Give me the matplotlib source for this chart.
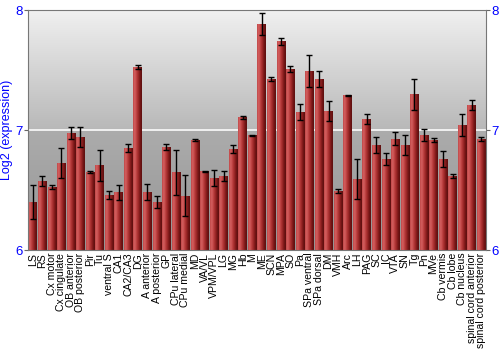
import numpy as np
import matplotlib.pyplot as plt
from matplotlib.colors import LinearSegmentedColormap

regions = ["LS", "RS", "Cx motor", "Cx cingulate", "OB anterior", "OB posterior",
           "Pir", "Tu", "ventral S", "CA1", "CA2/CA3", "DG", "A anterior",
           "A posterior", "GP", "CPu lateral", "CPu medial", "MD", "VA/VL",
           "VPM/VPL", "LG", "MG", "Hb", "M", "ME", "SCN", "MPA", "SO", "Pa",
           "SPa ventral", "SPa dorsal", "DM", "VMH", "Arc", "LH", "PAG", "SC",
           "IC", "VTA", "SN", "Tg", "Pn", "MVe", "Cb vermis", "Cb lobe",
           "Cb nucleus", "spinal cord anterior", "spinal cord posterior"]

expression = [6.40, 6.575, 6.525, 6.725, 6.975, 6.944, 6.65, 6.706,
              6.458, 6.48, 6.85, 7.525, 6.483, 6.40, 6.856, 6.647,
              6.453, 6.917, 6.656, 6.60, 6.617, 6.839, 7.106, 6.956,
              7.881, 7.428, 7.739, 7.511, 7.15, 7.492, 7.425, 7.158,
              6.492, 7.289, 6.592, 7.092, 6.875, 6.758, 6.928, 6.875,
              7.297, 6.958, 6.919, 6.756, 6.619, 7.042, 7.206, 6.925]

error = [0.139, 0.044, 0.017, 0.128, 0.053, 0.083, 0.011, 0.13,
         0.036, 0.063, 0.036, 0.02, 0.07, 0.053, 0.024, 0.19,
         0.168, 0.005, 0.005, 0.07, 0.04, 0.032, 0.0125, 0.006,
         0.092, 0.017, 0.028, 0.024, 0.065, 0.13, 0.065, 0.086,
         0.02, 0.005, 0.164, 0.04, 0.064, 0.052, 0.056, 0.083,
         0.132, 0.049, 0.017, 0.065, 0.018, 0.09, 0.04, 0.02]

yticks = [6, 7, 8]

plt.rcParams['font.family'] = ['Liberation Sans', 'DejaVu Sans']

fig = plt.figure(figsize=(5, 3.5), dpi=100)
ax = fig.add_axes([0.056, 0.2857, 0.916, 0.6857])

x = np.arange(len(regions))
ax.set_xlim(-0.5, len(regions) - 0.5)
ax.set_ylim(6, 8)

# background gradient, darker towards the bottom
bg = LinearSegmentedColormap.from_list('bg', [(0.0, '#949494'), (0.5, '#acacac'),
                                              (0.5, '#b8b8b8'), (1.0, '#f0f0f0')])
grad = np.linspace(0, 1, 256).reshape(-1, 1)
ax.imshow(grad, cmap=bg, aspect='auto', origin='lower',
          extent=[-0.5, len(regions) - 0.5, 6, 8], zorder=0)
ax.axhline(7, color='#f6f6f6', lw=1.3, zorder=1)

# bars with horizontal shading
barcm = LinearSegmentedColormap.from_list('bar', ['#c04848', '#d46060', '#bc4040',
                                                  '#9e2828', '#761616', '#5c0e0e'])
hgrad = np.linspace(0, 1, 64).reshape(1, -1)
bars = ax.bar(x, expression, width=0.9, color='none', edgecolor='none', zorder=2)
for b, v in zip(bars, expression):
    im = ax.imshow(hgrad, cmap=barcm, aspect='auto',
                   extent=[b.get_x(), b.get_x() + b.get_width(), 6, v], zorder=2)
    im.set_clip_path(b)

ax.errorbar(x, expression, yerr=error, fmt='none', ecolor='black',
            elinewidth=1, capsize=2, capthick=1, zorder=3)

ax.set_xticks(x)
ax.set_xticklabels(regions, rotation=90, fontsize=7.6)
ax.tick_params(axis='x', length=0, pad=2)
ax.set_yticks(yticks)
ax.set_yticklabels([str(t) for t in yticks])
ax.tick_params(axis='y', labelsize=9.5, labelcolor='blue', color='#666666',
               length=3, right=True, labelright=True, pad=1)
ax.set_ylabel('Log2 (expression)', color='blue', fontsize=9)
ax.yaxis.set_label_coords(-0.033, 0.5)

for s in ax.spines.values():
    s.set_color('#777777')

fig.savefig('out.png', dpi=100)
